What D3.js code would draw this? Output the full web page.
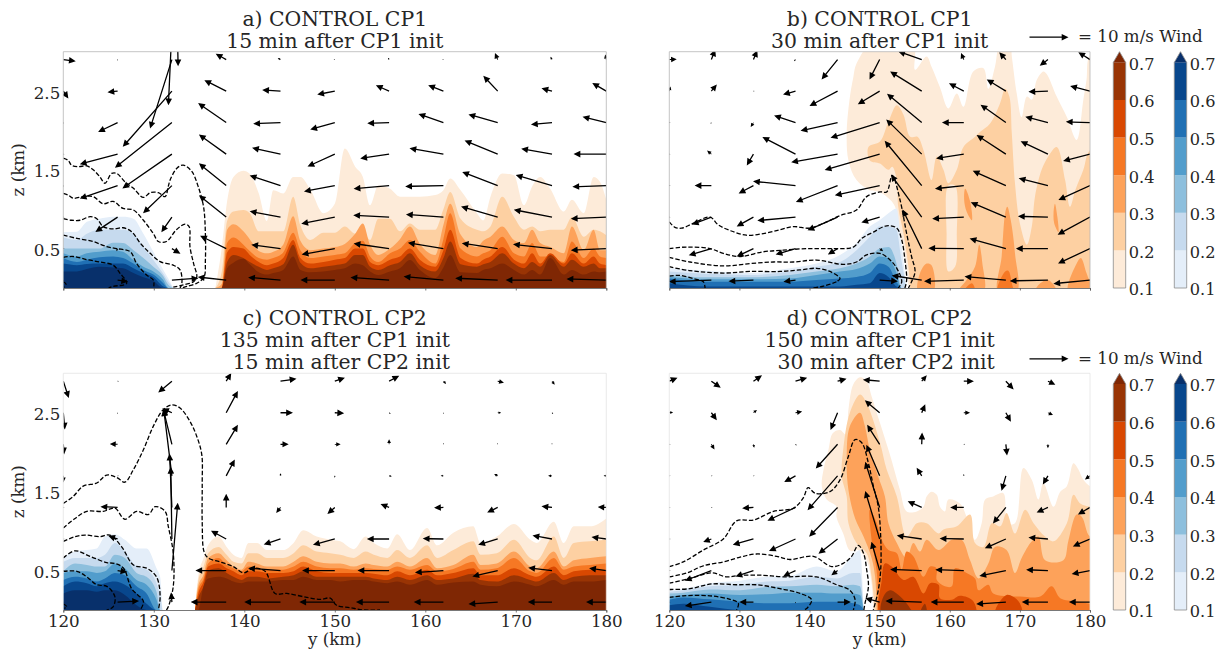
<!DOCTYPE html>
<html>
<head>
<meta charset="utf-8">
<script src="https://cdn.jsdelivr.net/npm/d3@7"></script>
<style>
  html, body { margin: 0; background: #fff; }
  text { font-family: "DejaVu Serif", serif; fill: #262626; }
  .axis path, .axis line { stroke: #555; stroke-width: 0.8; }
</style>
</head>
<body>
<div id="chart"></div>
<script>
// colour bands, 0.1 up to the extend colour above 0.7
const levels = [0.1, 0.2, 0.3, 0.4, 0.5, 0.6, 0.7];
const orangeColors = ["#fdebd9", "#fdd0a2", "#fda25a", "#f67824", "#d94801", "#993404", "#7f2704"];
const blueColors = ["#e4eef9", "#c6daee", "#8dbfdd", "#529dcc", "#2070b4", "#08478d", "#08306b"];

// wind arrows sit on a regular grid
const windY = [120, 126, 132, 138, 144, 150, 156, 162, 168, 174, 180];
const windZ = [2.9, 2.5, 2.1, 1.7, 1.3, 0.9, 0.5, 0.1];

// ---- panel a
const aOrangeY = [136.8,137.5,138.1,138.8,139.9,140.6,141.6,142.5,143.2,144.3,145.4,146.2,147.3,148.75,150,151.1,152.25,153.1,153.9,154.8,156.1,157.2,158.3,159.4,161.1,162,162.75,163.9,165.7,166.4,167.2,168.5,169.8,170.9,171.8,172.7,173.8,175.3,176.2,177.5,178.6,179.3,180];
const aOrange = [
  [0,.5,1.1,1.41,1.49,1.45,1.2,.85,1.24,1.2,1.41,1.41,1.25,.95,1.07,1.77,1.54,1.41,1.05,1.3,1.26,1.16,1.16,1.16,1.18,1.24,1.39,1.24,.95,.86,1.16,1.455,1.43,1.05,1.29,1.41,1.26,.97,1.12,.95,1.41,1.35,1.12],
  [0,.2,.85,.97,.99,.95,.72,.72,.72,.72,1.16,.8,.61,.70,.70,.78,.69,.72,.61,.88,.88,.72,.82,.74,.74,1.0,1.22,.88,.74,.72,.78,1.16,.9,.74,.78,.72,.74,.74,.9,.65,.74,.72,.67],
  [0,.05,.74,.81,.72,.62,.47,.44,.46,.55,.91,.6,.48,.50,.52,.56,.69,.82,.55,.42,.5,.62,.78,.56,.42,.8,1.07,.68,.52,.6,.65,.78,.61,.57,.74,.57,.52,.44,.78,.48,.74,.48,.48],
  [0,0,.57,.64,.55,.47,.38,.36,.38,.45,.7,.48,.38,.4,.42,.44,.57,.6,.4,.33,.44,.5,.61,.46,.31,.62,.95,.5,.4,.44,.48,.65,.44,.4,.57,.4,.4,.33,.59,.38,.5,.4,.38],
  [0,0,.45,.52,.5,.42,.33,.29,.31,.38,.61,.38,.31,.33,.36,.38,.5,.5,.33,.29,.36,.4,.5,.36,.27,.48,.74,.38,.31,.36,.4,.52,.36,.31,.44,.31,.44,.31,.44,.31,.4,.31,.29],
  [0,0,.33,.42,.38,.33,.27,.23,.25,.3,.55,.32,.25,.27,.29,.31,.42,.42,.27,.23,.29,.33,.44,.29,.21,.38,.59,.3,.27,.3,.33,.44,.31,.25,.33,.27,.42,.27,.36,.27,.31,.25,.25],
  [0,0,.25,.32,.37,.3,.2,.17,.19,.23,.4,.23,.2,.21,.23,.25,.31,.29,.21,.165,.21,.25,.355,.23,.125,.26,.42,.2,.19,.23,.25,.31,.23,.17,.23,.17,.38,.17,.23,.17,.21,.2,.21]
];
const aBlueY = [120,121.5,122.6,124,125.5,126.6,127.75,128.85,129.95,131.05,131.6,132.15];
const aBlue = [
  [.71,.715,.84,.88,.905,.905,.88,.69,.46,.23,.12,0],
  [.64,.61,.69,.74,.74,.74,.69,.525,.355,.18,.08,0],
  [.5,.5,.5,.5,.575,.57,.48,.38,.27,.15,.04,0],
  [.44,.4,.44,.46,.48,.46,.355,.27,.21,.1,0,0],
  [.38,.33,.36,.39,.4,.38,.31,.23,.17,.06,0,0],
  [.31,.29,.305,.31,.31,.31,.25,.19,.14,.02,0,0],
  [.21,.21,.24,.27,.26,.25,.19,.135,.09,0,0,0]
];
const aContours = [
  [[120,1.65],[120.55,1.62],[120.9,1.56],[121.66,1.54],[122.6,1.55],[123.3,1.5],[124.05,1.41],[124.6,1.33],[125.35,1.455],[125.9,1.455],[126.8,1.35],[127.75,1.265],[128.85,1.15],[129.6,1.21],[130.5,1.21],[131.25,1.16],[131.6,1.29],[131.8,1.37],[132.55,1.52],[133.25,1.56],[134.2,1.48],[134.9,1.29],[135.5,1.03],[135.7,.69],[135.7,.355],[135.55,.14],[134.75,.06],[133.65,.02],[133.1,0]],
  [[120,1.2],[120.55,1.18],[121.1,1.14],[122.2,1.16],[123.3,1.16],[124.4,1.07],[125.5,1.1],[126.6,1.01],[127.75,.99],[128.85,.86],[129.95,.69],[130.5,.59],[131.4,.59],[132.5,.74],[133.45,.81],[133.9,.78],[134,.52],[134.4,.31],[134.75,.14],[134.4,.08],[133.25,.04],[132.15,.01]],
  [[120,.88],[120.9,.86],[121.85,.86],[122.95,.905],[123.7,.88],[124.4,.78],[125.5,.75],[126.6,.765],[127.55,.715],[128.5,.57],[129.6,.44],[130.7,.335],[132.15,.29],[132.9,.23],[133.1,.06],[132.9,0]],
  [[120,.67],[121.5,.63],[123.3,.59],[124.8,.525],[125.9,.5],[127.4,.46],[128.1,.31],[129.2,.165],[129.95,.1],[130,.02]],
  [[120,.39],[121.1,.4],[122.6,.36],[124.05,.33],[125.5,.29],[126.25,.19],[127,.06],[125.5,.02],[125,0]],
  [[120,.08],[120.3,.05],[120.1,.01]]
];
const aU = [
  [3.2,0,-5.6,-2.7,-.7,-.3,-.3,-.3,-.7,-.4,-.3],
  [1.3,-2.6,-12.6,-5.6,-4.7,-4.5,-3.4,-3.9,-3.7,-2.7,-3.6],
  [0,-5,-14.6,-7.2,-7,-6.3,-5.6,-6.4,-7.5,-5.4,-6.1],
  [0,-9.7,-12.7,-7,-7.3,-7,-7.4,-8.7,-8.5,-7.9,-8.4],
  [0,-9.7,-7.4,-7,-7.9,-7.9,-9.1,-9.8,-9.1,-9.3,-8.7],
  [0,-5.7,-2.7,-7,-7.9,-8.6,-9.2,-9.6,-9.4,-9.8,-9.1],
  [0,-.3,2.2,-6.7,-7.5,-8.5,-9.1,-9.1,-9.2,-10,-9.1],
  [0,2.7,6.8,-7.3,-8.3,-8.8,-9.9,-10.2,-10.9,-11.9,-10.2]
];
const aW = [
  [-.4,-.2,-17.7,1.5,.4,0,.5,0,1.7,.7,1.3],
  [-1.9,-.3,-14.3,2.8,.3,-.9,1.5,1.5,3.9,.7,2.1],
  [-.3,-2.4,-11.6,5,-.3,-1.8,-.2,2.2,2.1,-.5,1.5],
  [0,-2.6,-8.8,5,1.6,-3.2,-1.1,1.5,3.5,1.4,0],
  [-.2,-3.3,-7.1,5.7,2.6,-1.5,-.8,-.2,3.5,2.7,-.3],
  [0,-3.8,-3.9,5.6,1.5,-1.7,.5,.7,2.7,1.9,-.4],
  [0,-.7,-1.3,3.3,1,-1.5,1.3,1.5,1.4,1.1,-.4],
  [-.2,-.4,.5,.8,.7,0,.7,.9,.5,0,.3]
];
// arrows whose tails sit above the top of the axes
const aExtra = [[132,3.3,-.9,-19.8],[132.6,3.3,.2,-9.8]];

// ---- panel b
const bBlueY = [120,125.3,131.5,137.2,141,144.35,146.7,148.6,150,151.25,152.4,153.1,153.8];
const bBlue = [
  [.25,.22,.19,.25,.31,.42,.57,.78,.86,.95,1.01,.57,0],
  [.21,.18,.165,.21,.27,.33,.48,.65,.78,.78,.74,.355,0],
  [.165,.135,.135,.165,.21,.25,.31,.4,.5,.52,.31,0,0],
  [.14,.11,.11,.12,.165,.21,.24,.31,.4,.38,.19,0,0],
  [.12,.08,.08,.08,.1,.12,.14,.19,.31,.27,.08,0,0],
  [.06,.02,.02,.02,.02,.02,.04,.06,.19,.14,.02,0,0]
];
const bOrange1 = [[[149.6,3.2],[146.7,2.85],[146.25,2.68],[145.7,2.39],[145.3,1.96],[145.55,1.62],[146.7,1.37],[148.6,1.24],[150,1.22],[151.5,1.12],[152.2,1.03],[152.65,.78],[153.4,.52],[153.85,.27],[154.1,0],[154.1,-.2],[182,-.2],[182,2.95],[180,2.95],[179.5,2.64],[179.05,2.39],[178.1,1.88],[176.7,2.17],[175.25,2.43],[173.8,2.72],[173.35,2.75],[172.4,2.64],[171.7,2.39],[171,2.43],[170.25,2.17],[169.55,2.47],[168.85,2.94],[168.6,3.1],[167.2,3.1],[166.45,2.81],[165.5,2.53],[164.8,2.79],[163.35,2.75],[161.95,2.3],[161,2.47],[159.8,2.28],[158.6,2.55],[157.4,2.81],[156.7,2.94],[155.05,2.77],[154.8,3.1],[150.75,3.1]]];
const bOrange2 = [
  [[148.4,1.79],[150.05,1.86],[151.25,2.11],[152.45,2.32],[153.4,2.2],[154.35,1.92],[155.4,1.92],[156.25,1.75],[156.5,1.67],[157.4,1.37],[158.15,1.67],[159.1,1.5],[159.8,1.33],[161,1.5],[161.95,1.79],[163.6,1.92],[164.3,1.98],[165.75,2.09],[167.15,2.34],[167.9,2.53],[168.5,2.43],[168.85,1.96],[169.3,1.33],[170,.82],[171,.55],[171.7,.78],[172.15,1.16],[173.1,1.5],[174.05,1.67],[175.25,1.79],[176.45,1.37],[177.15,1.03],[177.9,1.24],[179.05,1.5],[180,1.75],[182,1.75],[182,-.2],[154.35,-.2],[154.35,0],[154.1,.27],[153.4,.69],[152.65,1.03],[152.45,1.37],[151.8,1.54],[151.25,1.5],[150.05,1.58],[148.6,1.62]],
  [[159.8,1.3],[160.75,1.3],[161,.69],[160.75,.27],[159.8,.21],[159.55,.69]]
];
const bOrange3 = [
  [[162.2,1.26],[162.9,1.1],[163.15,.86],[162.4,.97],[162.05,1.12]],
  [[175,1.07],[175.35,.9],[175.5,.71],[174.9,.82],[174.8,.95]],
  [[155.5,-.05],[155.76,.19],[156.7,.31],[157.4,.29],[157.66,-.05]],
  [[161.2,-.05],[162.4,.1],[163.6,.27],[164.2,.55],[164.65,.31],[164.8,-.05]],
  [[166.9,-.05],[167.4,.4],[167.9,.95],[168.2,1.03],[168.7,.86],[169.3,.44],[169.55,-.05]],
  [[172.15,-.05],[172.9,.06],[174.05,.1],[175.25,-.05]],
  [[176.9,-.05],[178.1,.31],[178.7,.38],[179.5,.19],[180,.1],[181,.1],[181,-.05]]
];
const bOrange4 = [
  [[161.95,-.05],[163.15,.06],[163.6,-.05]],
  [[166.8,-.05],[167.9,.21],[168.35,.22],[168.85,.06],[169,-.05]]
];
const bContours = [
  [[120,.84],[120.8,.77],[121.75,.76],[123.4,.82],[125.8,.9],[127,.8],[128.65,.73],[131,.67],[133.4,.69],[135.8,.74],[137.7,.78],[140.05,.76],[142.45,.84],[144.35,.92],[146.7,.99],[148.15,1.16],[150.05,1.22],[151,1.22],[151.8,1.43],[152.9,1.12],[153.85,.69],[154.55,.4],[155.05,.21],[154.55,.08],[154.1,0]],
  [[120,.5],[122.5,.52],[125.8,.5],[127.7,.44],[130.1,.4],[133.4,.46],[136.25,.48],[139.6,.5],[143.4,.5],[146.25,.52],[147.45,.63],[149.1,.71],[151,.79],[152.45,.76],[153.15,.61],[153.6,.36],[153.85,.1],[153.6,0]],
  [[120,.39],[122.95,.33],[127.7,.28],[131.5,.31],[134.85,.33],[137.7,.33],[141,.355],[144.8,.3],[146.7,.33],[148.15,.42],[150.05,.44],[151.5,.355],[152.45,.25],[153.15,.08],[152.65,0]],
  [[120,.27],[122.95,.22],[127.7,.19],[131.5,.21],[135.8,.21],[138.65,.23],[141,.25],[142.9,.21],[144.35,.12],[143.85,.08],[142,.025],[140.55,0]],
  [[120,.15],[121.5,.16],[123.4,.12],[124.85,.08],[125.1,0]]
];
const bU = [
  [1.9,1,1,-.4,-4.1,-2.6,-6,-.7,-1.7,-2.1,-3],
  [.3,1.4,0,-3.2,-7.2,-5.6,-8.1,-3.8,-4.9,-5,-5.1],
  [0,-.2,-.7,-5.5,-9.5,-12.6,-8.9,-5.6,-6.5,-5.8,-6.2],
  [0,-1.1,-1.7,-8.5,-11.9,-14.1,-9.1,-7.1,-7.5,-7,-6.9],
  [0,-4.3,-3.8,-10.9,-10.7,-11.5,-9.5,-7.4,-8.5,-7.5,-8.1],
  [0,-5,-4.3,-9.8,-7.7,-4.7,-7.9,-8.1,-9,-7.7,-8.3],
  [0,-5.8,-4.3,-5.1,-2.5,.9,-4.9,-9.1,-9.3,-8.2,-8.2],
  [0,-10.9,-6.4,-3.1,.2,4.7,-7.7,-10.2,-10.6,-9.8,-9.4]
];
const bW = [
  [.1,2.6,2.4,-.4,-5.1,-5.1,2.1,1.7,1.9,-1.6,1.9],
  [1.2,1.7,0,-.9,-3.8,-3.4,5,2,3,-.2,1.3],
  [0,-.3,-1.1,1.8,-2.1,-3.9,7.4,0,4.6,1.5,.2],
  [0,.9,-2.9,4.4,-2.1,-4.1,8.9,-1.1,4.9,3.3,-1.8],
  [0,0,-2,1.1,-4.2,-2.5,11.5,-.8,3.8,1.9,-3.7],
  [0,-1.9,-2.4,-.9,-3.4,-1.4,10.9,-.4,3.8,.2,-4.5],
  [0,-1.7,-2,-1.5,-1.5,-.7,10,.1,2.6,0,-3.8],
  [0,-.4,-.3,-.4,-.4,-.3,1.2,-.3,.9,-.2,-.9]
];

// ---- panel c
const cOrangeY = [134.55,134.9,135.5,136,137.15,138.05,138.8,139.7,140.45,141.4,142.5,144.3,145.45,146.5,148,149.5,150.6,152.1,153.4,154.3,155.8,156.9,158.3,160.2,161.3,163.1,165.3,166.1,167.9,169.8,171.6,172.3,174.2,175.3,176.4,178.2,180];
const cOrange = [
  [0,.42,.66,.82,.93,.8,.7,.66,.85,.85,.76,.76,.85,1.01,.93,.89,.87,.77,.93,.85,.78,.96,.76,1.04,.82,.98,1.06,.85,.93,1.09,.89,.85,1.12,.85,1.06,1.06,1.16],
  [0,.36,.55,.72,.8,.7,.61,.59,.72,.72,.66,.66,.72,.82,.74,.72,.7,.66,.74,.7,.66,.76,.66,.82,.66,.76,.87,.7,.72,.89,.66,.63,.93,.66,.85,.87,.89],
  [0,.3,.45,.66,.72,.63,.55,.51,.61,.59,.55,.55,.61,.68,.61,.59,.59,.55,.59,.57,.55,.61,.55,.66,.53,.57,.7,.57,.59,.74,.55,.53,.74,.55,.63,.66,.68],
  [0,.25,.4,.59,.66,.57,.53,.49,.55,.54,.51,.51,.55,.61,.55,.53,.53,.51,.53,.52,.51,.55,.51,.57,.49,.52,.61,.51,.53,.66,.49,.47,.66,.51,.55,.57,.59],
  [0,.2,.36,.55,.59,.53,.49,.44,.49,.49,.47,.47,.49,.55,.49,.47,.47,.47,.47,.46,.44,.49,.44,.51,.44,.47,.53,.44,.44,.53,.44,.42,.55,.44,.49,.51,.51],
  [0,.15,.3,.5,.53,.47,.42,.38,.42,.42,.4,.42,.44,.49,.42,.42,.42,.42,.42,.4,.38,.42,.38,.44,.38,.4,.46,.38,.36,.44,.38,.36,.47,.38,.42,.44,.44],
  [0,0,.3,.4,.42,.4,.36,.34,.36,.36,.36,.38,.38,.42,.38,.38,.36,.38,.38,.36,.34,.36,.32,.38,.32,.35,.36,.32,.3,.36,.32,.3,.38,.32,.36,.36,.38]
];
const cBlueY = [120,121.3,122.6,123.7,124.6,125.7,126.8,128.1,129.2,130.3,130.7,130.95];
const cBlue = [
  [.66,.74,.76,.78,.93,.96,.89,.78,.78,.53,.42,0],
  [.61,.66,.66,.66,.7,.85,.74,.55,.51,.34,.17,0],
  [.49,.59,.57,.55,.55,.7,.66,.47,.42,.23,0,0],
  [.47,.49,.49,.47,.49,.59,.53,.38,.32,.13,0,0],
  [.38,.42,.4,.36,.4,.47,.44,.3,.21,0,0,0],
  [.3,.36,.34,.3,.34,.36,.32,.21,.08,0,0,0],
  [.21,.25,.25,.23,.25,.25,.19,.06,0,0,0,0]
];
const cContours = [
  [[120,1.35],[121.1,1.44],[122.2,1.57],[123.7,1.61],[124.8,1.71],[125.9,1.68],[126.8,1.62],[127.75,1.78],[128.85,2.03],[129.95,2.33],[131.05,2.54],[132,2.6],[132.9,2.56],[134,2.39],[134.75,2.2],[135.3,1.97],[135.35,1.61],[135.35,1.1],[135.55,.74],[136,.66],[137.3,.61],[138.8,.55],[139.9,.47],[141,.53],[142.3,.49],[143.4,.21],[144.7,.21],[146.9,.16],[148.4,.135],[149.5,.15],[150.2,.06],[151.7,.03],[153.2,0],[155,0]],
  [[120,1.04],[121.3,1.16],[122.6,1.25],[124.4,1.25],[125.7,1.29],[126.8,1.15],[128.1,1.25],[129.4,1.21],[130.15,1.31],[131.25,1.25],[131.6,1.06],[132.15,.72],[132.15,.3],[131.6,.04],[131.4,0]],
  [[120,.87],[121.3,.93],[122.4,.95],[124.05,.93],[125.15,.95],[126.45,.8],[127.75,.57],[129.2,.53],[130.3,.42],[130.7,.17],[130.5,0]],
  [[120,.66],[121.3,.75],[122.95,.68],[124.8,.6],[125.7,.59],[126.65,.53],[127.55,.27],[128.85,.11],[128.5,0]],
  [[120,.49],[121.5,.49],[122.6,.42],[123.7,.32],[124.8,.3],[125.7,.17],[125.5,.04],[124.8,0]],
  [[120,.08],[120.4,.04],[120.1,.02]]
];
const cU = [
  [1.4,.1,-3.5,1.3,4.1,2.6,2.6,.7,1.6,.7,0],
  [.4,0,-2.5,3,3.2,2.4,.4,0,.9,.3,0],
  [.2,-2,-2.2,3,2.1,1.5,0,0,0,0,0],
  [0,0,-2.1,2.2,0,0,.7,-.7,-.9,-1,-.7],
  [0,-4.4,-.6,0,-1.1,-1.9,-2.2,-2.4,-2.7,-2.7,-2.2],
  [0,-2.4,-.3,-3.9,-4.3,-5.6,-5.7,-5.3,-5,-5,-3.8],
  [0,2.5,1.5,-7.9,-8.3,-8.4,-8.1,-7.3,-6.5,-6.1,-4.4],
  [0,5.5,-.2,-9.1,-9.3,-9.1,-8.5,-7.6,-7.5,-6.2,-5.2]
];
const cW = [
  [-4.3,0,-2.9,2.1,.6,.9,1.4,-.7,-.4,-.9,0],
  [-4.3,-.1,1.1,5.6,0,-.1,-.3,-.1,0,-.3,0],
  [-2.6,.1,9,5,0,0,1.3,.1,.1,.1,0],
  [-1.7,0,17.1,4.2,.7,-.5,-.1,0,.5,0,0],
  [0,.2,13.8,3.5,-1.4,-1.7,.9,-.1,-1.3,.3,.1],
  [0,.8,18.5,2.1,-1.4,-1.5,0,.1,-1.5,.9,.5],
  [0,-.4,17.4,0,.6,0,0,-.5,-1.5,.7,.6],
  [0,.3,2.5,0,0,0,0,0,-.5,0,0]
];

// ---- panel d
const dBlueY = [120,122,125.8,130.1,133.9,137.2,141,143.85,146.25,147.2,147.7];
const dBlue = [
  [.25,.27,.34,.37,.42,.43,.55,.49,.7,.76,0],
  [.23,.25,.3,.32,.36,.37,.42,.4,.47,.47,0],
  [.21,.22,.26,.25,.29,.3,.32,.3,.32,.3,0],
  [.17,.19,.21,.19,.2,.22,.22,.21,.21,.19,0],
  [.13,.16,.135,.105,.085,.085,.105,.105,.085,.06,0],
  [.06,.08,.04,0,0,0,0,0,0,0,0]
];
const dOrange1 = [[[149.1,-.1],[148.85,.34],[148.15,.63],[146.95,.76],[145.8,.75],[144.8,.97],[143.85,1.18],[143.85,1.31],[142.45,1.4],[141.75,1.57],[142,1.78],[142.7,2.03],[143.3,2.24],[144.35,2.28],[145.2,2.22],[145.55,2.54],[146.25,2.86],[147.2,2.95],[148.15,2.9],[148.85,2.71],[150.05,2.37],[151.25,2.03],[151.95,1.82],[152.9,1.52],[153.85,1.25],[155.3,1.25],[156.25,1.31],[156.7,1.44],[157.4,1.5],[158.15,1.46],[158.6,1.31],[159.3,1.25],[159.8,1.4],[161.45,1.35],[162.4,1.18],[163.6,.89],[164.55,1.1],[165.05,1.4],[166.2,1.44],[167.65,1.48],[168.2,1.1],[169.3,1.1],[170.5,1.8],[171.7,1.65],[172.65,1.4],[173.35,1.61],[174.8,1.31],[175.75,1.5],[176.7,1.57],[177.65,1.86],[178.35,1.78],[179.05,1.65],[180,1.57],[182,1.5],[182,-.2],[149.1,-.2]]];
const dOrange2 = [[[149.35,-.1],[148.85,.42],[148.15,.72],[146.7,.85],[145.55,1.1],[145.3,1.44],[144.6,1.69],[144.8,2.03],[145.75,2.5],[147.2,2.73],[148.15,2.62],[150.05,2.12],[151,1.78],[152.45,1.44],[153.85,.93],[155.3,1.1],[156.7,1.1],[158.4,.97],[159.1,1.02],[161,1.06],[162.9,1.21],[163.6,.85],[164.8,.8],[166,1.1],[167.2,1.06],[168.1,1.23],[169.3,.97],[170.75,1.27],[171.95,1.1],[173.6,.93],[174.8,.87],[176.7,1.1],[177.65,1.46],[178.6,1.35],[180,1.31],[182,1.3],[182,-.2],[149.35,-.2]]];
const dOrange3 = [[[149.6,-.1],[149.35,.42],[148.85,.66],[147.7,.93],[146.5,1.16],[145.55,1.52],[145.3,1.9],[145.75,2.33],[147.2,2.5],[147.9,2.33],[148.6,2.03],[149.8,1.69],[150.75,1.44],[151.25,1.1],[152.45,.85],[153.85,.66],[154.8,.85],[155.76,.74],[156.7,.89],[158.4,.76],[160.3,.89],[161.7,.89],[162.9,.63],[164.1,.4],[165.5,.59],[166.45,.8],[168.1,.76],[169.3,.47],[170.25,.66],[171.7,.87],[172.65,.93],[173.6,.63],[176.2,.63],[176.9,.87],[178.1,1.21],[178.85,1.18],[180,.93],[182,.9],[182,-.2],[149.6,-.2]]];
const dOrange4 = [[[149.7,-.1],[149.65,.42],[149.25,.68],[148.85,.89],[148.6,1.27],[149.6,1.1],[150.3,.89],[151.25,.76],[152.45,.72],[153.15,.51],[153.85,.74],[154.8,.68],[156.25,.42],[157.2,.55],[158.1,.53],[158.15,.38],[159.3,.3],[160.3,.3],[160.75,.53],[162.4,.47],[163.6,.4],[164.1,.25],[165.5,.32],[166.2,.21],[170,.17],[172.9,.17],[174.55,.3],[175.75,.15],[178.1,.11],[180,.08],[182,.08],[182,-.2],[149.7,-.2]]];
const dOrange5 = [
  [[150.3,-.1],[150.3,.38],[150.75,.59],[151.7,.55],[153.4,.38],[154.8,.42],[156.25,.21],[157.2,.34],[158.4,.32],[158.6,.15],[160.3,.13],[161.45,.18],[163.35,.11],[163.6,-.1]],
  [[166.45,-.05],[168.1,.19],[169.8,.11],[170.25,-.05]]
];
const dOrange6 = [
  [[150.3,-.05],[150.55,.17],[151.5,.25],[153.4,.13],[154.35,.02],[154.8,-.05]],
  [[155.76,-.05],[156.45,.08],[156.7,-.05]]
];
const dContours = [
  [[120,.55],[122,.61],[124.85,.76],[127.7,.9],[129.6,1.13],[132,1.14],[134.85,1.25],[137.7,1.29],[139.1,1.42],[139.8,1.55],[140.8,1.48],[142.9,1.5],[144.35,1.65],[145.55,1.95],[146.5,2.16],[147.45,2.12],[148.4,1.86],[149.1,1.57],[149.8,1.31],[150.15,.93],[150.15,.51],[149.8,.25],[149.1,0]],
  [[120,.42],[122.5,.47],[124.85,.56],[127.7,.61],[130.1,.67],[132.45,.71],[135.3,.68],[137.2,.64],[140.55,.68],[143.15,.55],[144.8,.59],[146,.68],[146.95,.82],[147.7,.72],[148.15,.51],[148.4,.3],[147.9,.08],[147.75,0]],
  [[120,.34],[122.95,.4],[126.05,.47],[128.2,.42],[130.1,.44],[133.4,.44],[136.25,.42],[141,.42],[143.85,.32],[145.75,.25],[146.5,.13],[146.25,0]],
  [[120,.26],[122.95,.27],[126.05,.33],[129.6,.32],[132.45,.32],[135.8,.27],[138.65,.21],[140.3,.13],[139.6,.02],[139.1,0]],
  [[120,.16],[122,.18],[125.8,.18],[128.65,.135],[129.85,.085],[129.6,0]]
];
const dU = [
  [2.1,2.4,2.2,3,2.3,-4.3,1.3,2.6,2,1.9,0],
  [1,1.4,.9,1.7,-1.8,-3.8,.9,1.6,1.3,1.3,0],
  [0,.8,.2,.3,-5.6,-3.2,.1,0,.3,0,0],
  [0,0,0,-2.9,-7.7,-3.4,-1.3,0,-1.1,-1.3,-1.3],
  [0,0,-2.9,-7.2,-7.3,-3.7,-3.6,-3.5,-3.3,-2.9,-3.1],
  [0,-2.1,-5.3,-6.8,-4.9,-3.7,-6.4,-6.2,-5.4,-5,-4.4],
  [0,-6.8,-4.6,-3.2,-1.6,-2.1,-8.1,-7.3,-6.8,-5.6,-4.7],
  [0,-6.8,-3.6,0,3.4,-3.7,-9.3,-8.5,-7.6,-6.7,-5.4]
];
const dW = [
  [.9,-1.7,1.5,.9,.6,.4,1.5,0,-2.1,-.9,0],
  [.1,-1.9,.7,.3,-4.4,3.2,2.2,0,-2.3,-.6,0],
  [0,-1.3,-.9,-.3,-6.2,5,3,0,-2.9,-1,0],
  [0,0,0,-1.6,-8.8,8,2.1,.5,-3.8,-2.2,-.9],
  [0,0,-.2,-3.4,-7.5,11.7,1.6,0,-4.1,-1.3,-1.8],
  [0,-.8,-1.5,-3.1,-3.8,12.3,.9,.1,-2.4,.4,-1.9],
  [0,-2.6,-1.5,-1.5,-1.2,7.4,.3,.2,-1.4,.2,-.9],
  [0,-1,0,-.3,0,1,.3,0,-.5,0,0]
];

const width = 1223, height = 653;
const yTicks = [120, 130, 140, 150, 160, 170, 180];
const zTicks = [0.5, 1.5, 2.5];
const windScale = d3.scaleLinear().domain([0, 10]).range([0, 39]);

const svg = d3.select("#chart").append("svg")
  .attr("width", width)
  .attr("height", height)
  .style("display", "block");

// filled arrow, drawn from the tail along +x then rotated by the caller
function arrowPath(len) {
  const s = Math.min(1, len / 9);
  const head = 6.8 * s, half = 3.3 * s, shaft = Math.max(0.35, 0.65 * s);
  return `M0,${-shaft}L${len - head},${-shaft}L${len - head},${-half}L${len},0L${len - head},${half}L${len - head},${shaft}L0,${shaft}Z`;
}

function drawArrow(g, px, py, u, w) {
  const dx = windScale(u), dy = -windScale(w);
  const len = Math.max(Math.hypot(dx, dy), 1.2);
  const angle = Math.atan2(dy, dx) * 180 / Math.PI;
  g.append("path")
    .attr("d", arrowPath(len))
    .attr("transform", `translate(${px},${py}) rotate(${angle})`)
    .attr("fill", "#000");
}

function drawProfiles(g, grid, rows, colors, x, y) {
  const area = d3.area()
    .x((d, i) => x(grid[i]))
    .y0(y(0))
    .y1(d => y(d))
    .curve(d3.curveMonotoneX);
  rows.forEach((row, i) => {
    g.append("path").attr("d", area(row)).attr("fill", colors[i]);
  });
}

function drawRings(g, rings, color, x, y) {
  const ring = d3.line()
    .x(d => x(d[0]))
    .y(d => y(d[1]))
    .curve(d3.curveCatmullRomClosed.alpha(0.5));
  g.append("path")
    .attr("d", rings.map(r => ring(r)).join(""))
    .attr("fill", color)
    .attr("fill-rule", "evenodd");
}

function drawPanel(p, i) {
  const x = d3.scaleLinear().domain([120, 180]).range([p.left, p.right]);
  const y = d3.scaleLinear().domain([0, 3]).range([p.bottom, p.top]);

  svg.append("clipPath").attr("id", "clip" + i)
    .append("rect")
    .attr("x", p.left).attr("y", p.top)
    .attr("width", p.right - p.left).attr("height", p.bottom - p.top);

  const plot = svg.append("g").attr("clip-path", `url(#clip${i})`);

  if (p.orange) drawProfiles(plot, p.orangeY, p.orange, orangeColors, x, y);
  if (p.rings) p.rings.forEach((r, j) => drawRings(plot, r, orangeColors[j], x, y));
  drawProfiles(plot, p.blueY, p.blue, blueColors, x, y);

  // dashed contours
  const contourLine = d3.line()
    .x(d => x(d[0]))
    .y(d => y(d[1]))
    .curve(d3.curveCatmullRom.alpha(0.5));
  p.contours.forEach(c => {
    plot.append("path")
      .attr("d", contourLine(c))
      .attr("fill", "none")
      .attr("stroke", "#000")
      .attr("stroke-width", 1.3)
      .attr("stroke-dasharray", "4.4 2");
  });

  // wind arrows
  windZ.forEach((z, r) => {
    windY.forEach((yKm, c) => {
      drawArrow(plot, x(yKm), y(z), p.u[r][c], p.w[r][c]);
    });
  });
  (p.extra || []).forEach(e => drawArrow(plot, x(e[0]), y(e[1]), e[2], e[3]));

  // spines
  svg.append("path")
    .attr("d", `M${p.left},${p.bottom}V${p.top}H${p.right}V${p.bottom}`)
    .attr("fill", "none")
    .attr("stroke", p.spine)
    .attr("stroke-width", 0.8);

  // axes
  const xAxis = d3.axisBottom(x).tickValues(yTicks).tickSize(2.5).tickPadding(3);
  if (!p.xLabels) xAxis.tickFormat("");
  const xg = svg.append("g").attr("class", "axis")
    .attr("transform", `translate(0,${p.bottom})`)
    .call(xAxis);
  xg.selectAll("text").style("font-size", "16.7px");

  if (p.zLabels) {
    const zAxis = d3.axisLeft(y).tickValues(zTicks).tickSize(0).tickPadding(3);
    const zg = svg.append("g").attr("class", "axis")
      .attr("transform", `translate(${p.left},0)`)
      .call(zAxis);
    zg.select(".domain").remove();
    zg.selectAll("text").style("font-size", "16.7px").attr("dy", ".42em");
    svg.append("text")
      .attr("transform", `translate(24,${(p.top + p.bottom) / 2}) rotate(-90)`)
      .attr("text-anchor", "middle")
      .style("font-size", "16.7px")
      .text("z (km)");
  }
  if (p.xLabels) {
    svg.append("text")
      .attr("x", (p.left + p.right) / 2)
      .attr("y", p.bottom + 35)
      .attr("text-anchor", "middle")
      .style("font-size", "16.7px")
      .text("y (km)");
  }

  // title, leading blanks are kept so the last line sits off centre
  const lastBase = p.top - 4;
  p.title.forEach((line, k) => {
    svg.append("text")
      .attr("x", (p.left + p.right) / 2)
      .attr("y", lastBase - (p.title.length - 1 - k) * 22)
      .attr("text-anchor", "middle")
      .style("font-size", "20.4px")
      .style("white-space", "pre")
      .text(line);
  });

  if (p.key) drawKey(p);
}

// reference arrow and the two colour bars to the right of panels b and d
function drawKey(p) {
  const keyY = p.top - 14.5;
  drawArrow(svg, 1029.5, keyY, 10, 0);
  svg.append("text")
    .attr("x", 1078)
    .attr("y", keyY + 5)
    .style("font-size", "16.7px")
    .text("= 10 m/s Wind");

  const cb = d3.scaleLinear().domain([0.1, 0.7]).range([p.bottom, p.top + 10.7]);
  [[1113.3, orangeColors], [1174.3, blueColors]].forEach(([left, colors]) => {
    const barW = 12.4;
    levels.slice(0, 6).forEach((v, j) => {
      svg.append("rect")
        .attr("x", left)
        .attr("y", cb(levels[j + 1]))
        .attr("width", barW)
        .attr("height", cb(v) - cb(levels[j + 1]))
        .attr("fill", colors[j]);
    });
    const tri = `M${left},${cb(0.7)}L${left + barW / 2},${p.top}L${left + barW},${cb(0.7)}Z`;
    svg.append("path").attr("d", tri).attr("fill", colors[6]);
    svg.append("path")
      .attr("d", `M${left},${cb(0.7)}L${left + barW / 2},${p.top}L${left + barW},${cb(0.7)}V${cb(0.1)}H${left}Z`)
      .attr("fill", "none")
      .attr("stroke", "#8a8a8a")
      .attr("stroke-width", 0.8);
    const ax = svg.append("g")
      .attr("class", "axis")
      .attr("transform", `translate(${left + barW},0)`)
      .call(d3.axisRight(cb).tickValues(levels).tickSize(0).tickPadding(3).tickFormat(d3.format(".1f")));
    ax.select(".domain").remove();
    ax.selectAll("text").style("font-size", "16.2px").attr("dy", ".42em");
  });
}

const panels = [
  { left: 63.3, right: 606.3, top: 51.7, bottom: 288, spine: "#b5b5b5", zLabels: true, xLabels: false,
    title: ["a) CONTROL CP1", "15 min after CP1 init"],
    orangeY: aOrangeY, orange: aOrange, blueY: aBlueY, blue: aBlue,
    contours: aContours, u: aU, w: aW, extra: aExtra },
  { left: 669.3, right: 1090, top: 51.7, bottom: 288, spine: "#b5b5b5", zLabels: false, xLabels: false, key: true,
    title: ["b) CONTROL CP1", "30 min after CP1 init"],
    rings: [bOrange1, bOrange2, bOrange3, bOrange4], blueY: bBlueY, blue: bBlue,
    contours: bContours, u: bU, w: bW },
  { left: 63.3, right: 606.3, top: 373.3, bottom: 610, spine: "#e4e4e4", zLabels: true, xLabels: true,
    title: ["c) CONTROL CP2", "135 min after CP1 init", "  15 min after CP2 init"],
    orangeY: cOrangeY, orange: cOrange, blueY: cBlueY, blue: cBlue,
    contours: cContours, u: cU, w: cW },
  { left: 669.3, right: 1090, top: 373.3, bottom: 610, spine: "#e4e4e4", zLabels: false, xLabels: true, key: true,
    title: ["d) CONTROL CP2", "150 min after CP1 init", "  30 min after CP2 init"],
    rings: [dOrange1, dOrange2, dOrange3, dOrange4, dOrange5, dOrange6], blueY: dBlueY, blue: dBlue,
    contours: dContours, u: dU, w: dW }
];

panels.forEach(drawPanel);
</script>
</body>
</html>
